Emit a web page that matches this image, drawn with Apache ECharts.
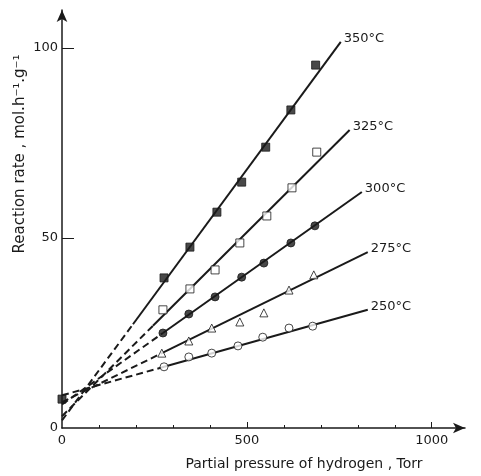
<!DOCTYPE html>
<html>
<head>
<meta charset="utf-8">
<script src="https://cdn.jsdelivr.net/npm/echarts@6/dist/echarts.min.js"></script>
<style>
  html, body { margin: 0; padding: 0; background: #fff; }
  #chart { width: 481px; height: 476px; }
</style>
</head>
<body>
<div id="chart"></div>
<script>
// temperatures, one curve each
var temps = ['350°C', '325°C', '300°C', '275°C', '250°C'];

// measured points (partial pressure, Torr / rate)
var p350 = [0, 276, 346, 419, 486, 551, 619, 686];
var r350 = [7.6, 39.5, 47.6, 56.8, 64.7, 73.9, 83.7, 95.5];
var p325 = [273, 346, 414, 481, 554, 622, 689];
var r325 = [31.1, 36.6, 41.6, 48.7, 55.8, 63.2, 72.6];
var p300 = [273, 343, 414, 486, 546, 619, 684];
var r300 = [25.0, 30.0, 34.5, 39.7, 43.4, 48.7, 53.2];
var p275 = [270, 343, 405, 481, 546, 614, 681];
var r275 = [19.7, 22.9, 26.3, 27.9, 30.3, 36.3, 40.3];
var p250 = [276, 343, 405, 476, 543, 614, 678];
var r250 = [16.1, 18.7, 19.7, 21.6, 23.9, 26.3, 26.8];

// fitted lines: dashed from the y axis, solid over the data
var fitY0 = [2.0, 3.1, 6.2, 6.8, 8.6];
var solidFromX = [192, 246, 273, 270, 276];
var solidFromY = [27.3, 26.9, 25.0, 19.7, 16.1];
var fitEndX = [754, 778, 811, 827, 827];
var fitEndY = [101.6, 78.4, 62.1, 46.3, 31.1];

var xLabels = [0, 500, 1000];
var xMinorTicks = [100, 200, 300, 400, 600, 700, 800, 900];
var yLabels = [0, 50, 100];

var ink = '#1a1a1a';
var font = 'DejaVu Sans';

function pairs(xs, ys) {
  return xs.map(function (x, i) { return [x, ys[i]]; });
}

var pointSets = [
  { data: pairs(p350, r350), symbol: 'rect', fill: ink },
  { data: pairs(p325, r325), symbol: 'rect', fill: '#fff' },
  { data: pairs(p300, r300), symbol: 'circle', fill: ink },
  { data: pairs(p275, r275), symbol: 'triangle', fill: '#fff' },
  { data: pairs(p250, r250), symbol: 'circle', fill: '#fff' }
];

var series = [];
temps.forEach(function (t, i) {
  series.push({
    type: 'line',
    data: [[0, fitY0[i]], [solidFromX[i], solidFromY[i]]],
    symbol: 'none',
    lineStyle: { color: ink, width: 2, type: [7, 4] },
    z: 2
  });
  series.push({
    type: 'line',
    name: t,
    data: [[solidFromX[i], solidFromY[i]], [fitEndX[i], fitEndY[i]]],
    symbol: 'none',
    lineStyle: { color: ink, width: 2 },
    endLabel: {
      show: true,
      formatter: t,
      color: ink,
      fontFamily: font,
      fontSize: 13,
      distance: 3,
      offset: [0, -3]
    },
    z: 2
  });
  series.push({
    type: 'scatter',
    data: pointSets[i].data,
    symbol: pointSets[i].symbol,
    symbolSize: 8,
    itemStyle: { color: pointSets[i].fill, borderColor: ink, borderWidth: 1 },
    z: 3
  });
});

var chart = echarts.init(document.getElementById('chart'));
var option = {
  animation: false,
  backgroundColor: '#fff',
  grid: { left: 62, right: 16, top: 10, bottom: 48 },
  xAxis: [{
    type: 'value',
    min: 0,
    max: 1090,
    splitLine: { show: false },
    axisLine: { lineStyle: { color: ink, width: 1.5 }, symbol: ['none', 'arrow'], symbolSize: [8, 12] },
    axisTick: { inside: true, length: 3, customValues: xMinorTicks, lineStyle: { color: ink } },
    axisLabel: {
      customValues: xLabels,
      formatter: function (v) { return String(v); },
      color: ink, fontFamily: font, fontSize: 13, margin: 6
    }
  }, {
    type: 'value',
    min: 0,
    max: 1090,
    position: 'bottom',
    splitLine: { show: false },
    axisLine: { show: false },
    axisTick: { inside: true, length: 6, customValues: [500, 1000], lineStyle: { color: ink } },
    axisLabel: { show: false }
  }],
  yAxis: {
    type: 'value',
    min: 0,
    max: 110,
    splitLine: { show: false },
    axisLine: { lineStyle: { color: ink, width: 1.5 }, symbol: ['none', 'arrow'], symbolSize: [8, 12] },
    axisTick: { inside: true, length: 12, customValues: [50, 100], lineStyle: { color: ink } },
    axisLabel: { customValues: yLabels, color: ink, fontFamily: font, fontSize: 13, margin: 4 }
  },
  graphic: [{
    type: 'text',
    x: 304,
    y: 464,
    style: {
      text: 'Partial pressure of hydrogen , Torr',
      fill: ink,
      font: '14px "DejaVu Sans"',
      textAlign: 'center',
      textVerticalAlign: 'middle'
    }
  }, {
    type: 'text',
    x: 20,
    y: 154,
    rotation: Math.PI / 2,
    style: {
      text: 'Reaction rate , mol.h⁻¹.g⁻¹',
      fill: ink,
      font: '15px "DejaVu Sans"',
      textAlign: 'center',
      textVerticalAlign: 'middle'
    }
  }],
  series: series
};
chart.setOption(option);
</script>
</body>
</html>
